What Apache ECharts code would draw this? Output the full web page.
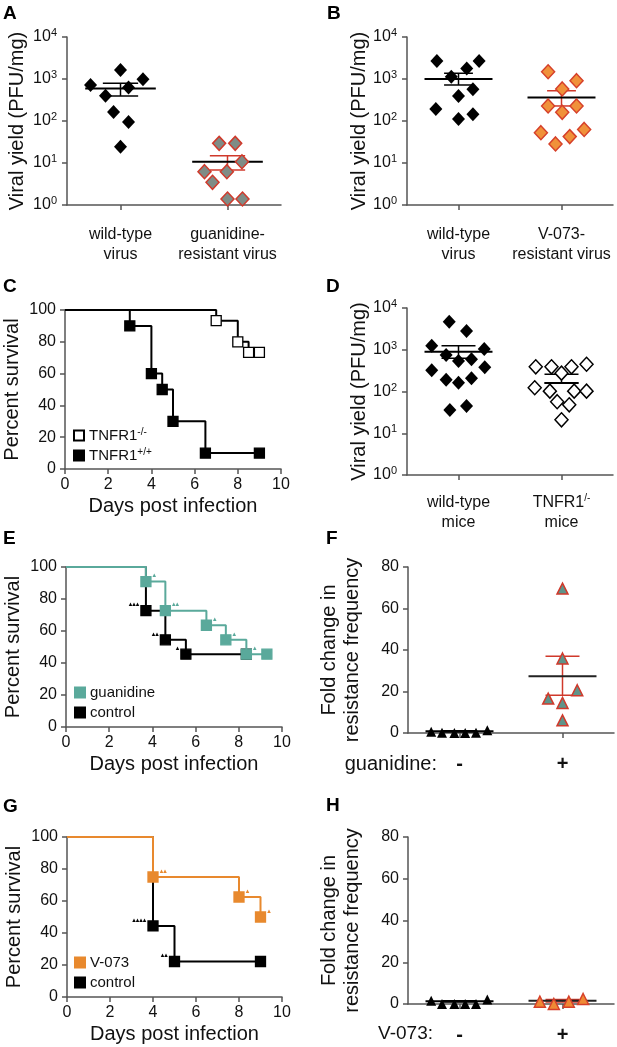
<!DOCTYPE html>
<html><head><meta charset="utf-8">
<script src="https://cdn.jsdelivr.net/npm/echarts@6/dist/echarts.min.js"></script>
<style>html,body{margin:0;padding:0;background:#fff}#c{width:617px;height:1047px}</style>
</head><body><div id="c"></div>
<script>
// ===== DATA =====
// Panel A
const catA = ['wild-type\nvirus', 'guanidine-\nresistant virus'];
const aWtY = [720, 1630, 990, 630, 400, 163, 95, 24.5];
const aWtJ = [-0.28, 0, 0.21, 0.075, -0.14, -0.065, 0.075, 0];
const aWtStat = [590, 395, 790];            // mean, lower SEM, upper SEM
const aGrY = [29.4, 29.4, 10.7, 6.2, 6.2, 3.47, 1.39, 1.39];
const aGrJ = [-0.078, 0.072, 0.135, -0.215, -0.006, -0.14, 0, 0.14];
const aGrStat = [10.7, 6.8, 14.9];
// Panel B
const catB = ['wild-type\nvirus', 'V-073-\nresistant virus'];
const bWtY = [2680, 2680, 1790, 1130, 570, 395, 193, 145, 112];
const bWtJ = [-0.21, 0.2, 0.08, -0.07, 0.14, 0, -0.22, 0.14, 0];
const bWtStat = [1000, 720, 1370];
const bVY = [1490, 910, 580, 228, 228, 161, 52.6, 63, 42.5, 28.4];
const bVJ = [-0.13, 0.146, 0.007, -0.13, 0.146, 0.007, -0.2, 0.22, 0.08, -0.058];
const bVStat = [365, 228, 525];
// Panel C (Kaplan-Meier)
const cKoX = [0, 7, 8, 8.5, 9];
const cKoY = [100, 93.3, 80, 73.3, 73.3];
const cWtX = [0, 3, 4, 4.5, 5, 6.5, 9];
const cWtY = [100, 90, 60, 50, 30, 10, 10];
// Panel D
const catD = ['wild-type\nmice', 'TNFR1/-\nmice'];
const dWtY = [4700, 2800, 1250, 1040, 750, 540, 590, 325, 380, 190, 208, 162, 36, 45];
const dWtJ = [-0.09, 0.078, -0.26, 0.25, -0.12, 0, 0.126, -0.26, 0.255, -0.12, 0.126, 0, -0.084, 0.078];
const dWtStat = [900, 625, 1250];
const dKoY = [390, 390, 390, 450, 275, 123, 102, 102, 102, 57, 48, 21];
const dKoJ = [-0.25, -0.097, 0.097, 0.243, 0, -0.26, -0.113, 0.123, 0.243, -0.042, 0.075, 0];
const dKoStat = [160, 160, 258];
// Panel E
const eGuX = [0, 3.7, 4.6, 6.5, 7.4, 8.35, 9.3];
const eGuY = [100, 90.9, 72.7, 63.6, 54.5, 45.5, 45.5];
const eGuTicks = ['', '▴', '▴▴', '▴', '▴', '▴', ''];
const eCtX = [0, 3.7, 4.6, 5.55, 8.35];
const eCtY = [100, 72.7, 54.5, 45.5, 45.5];
const eCtTicks = ['', '▴▴▴', '▴▴', '▴', ''];
// Panel F
const catF = ['-', '+'];
const fMinY = [0.6, 0.1, 0, 0, 0.1, 1.3];
const fMinJ = [-0.275, -0.17, -0.05, 0.055, 0.16, 0.27];
const fMinStat = [0.8, 0.5, 1.1];
const fPlusY = [69.6, 35.9, 20.6, 16.6, 14.5, 6.1];
const fPlusJ = [0, 0, 0.143, -0.139, 0, 0];
const fPlusStat = [27.3, 18.2, 37.0];
// Panel G
const gVX = [0, 4, 8, 9];
const gVY = [100, 75, 62.5, 50];
const gVTicks = ['', '▴▴', '▴', '▴'];
const gCtX = [0, 4, 5, 9];
const gCtY = [100, 44.4, 22.2, 22.2];
const gCtTicks = ['', '▴▴▴▴', '▴▴', ''];
// Panel H
const catH = ['-', '+'];
const hMinY = [1.6, 0, 0, 0, 0, 2.2];
const hMinJ = [-0.275, -0.17, -0.05, 0.055, 0.16, 0.27];
const hMinStat = [1.3, 1.0, 1.6];
const hPlusY = [1.1, 0, 1.1, 2.4];
const hPlusJ = [-0.22, -0.084, 0.061, 0.2];
const hPlusStat = [1.6, 1.0, 2.2];

// ===== STYLE =====
const FONT = '"Liberation Sans", Arial, Helvetica, sans-serif';
const AXC = '#555555';
const TXT = '#111111';
const RED = '#d0392b';
const TEAL = '#5aa99b';
const ORANGE = '#e8892e';

const grids = [], xAxes = [], yAxes = [], series = [], legends = [], graphics = [];

function axLine() { return {show: true, onZero: false, lineStyle: {color: AXC, width: 1.5}}; }
function axTick() { return {show: true, length: 5, lineStyle: {color: AXC, width: 1.5}}; }
function addGrid(l, t, w, h) {
  grids.push({left: l, top: t, width: w, height: h, containLabel: false, outerBoundsMode: 'none'});
  return grids.length - 1;
}
function errRender(meanColor, semColor, mwFrac, cwFrac) {
  return function (params, api) {
    const x = api.value(0);
    const m = api.coord([x, api.value(1)]);
    const lo = api.coord([x, api.value(2)]);
    const hi = api.coord([x, api.value(3)]);
    const band = api.coord([1, api.value(1)])[0] - api.coord([0, api.value(1)])[0];
    const mw = band * mwFrac, cw = band * cwFrac;
    const sem = {stroke: semColor, lineWidth: 1.5};
    return {type: 'group', children: [
      {type: 'line', shape: {x1: lo[0], y1: lo[1], x2: hi[0], y2: hi[1]}, style: sem},
      {type: 'line', shape: {x1: lo[0] - cw, y1: lo[1], x2: lo[0] + cw, y2: lo[1]}, style: sem},
      {type: 'line', shape: {x1: hi[0] - cw, y1: hi[1], x2: hi[0] + cw, y2: hi[1]}, style: sem},
      {type: 'line', shape: {x1: m[0] - mw, y1: m[1], x2: m[0] + mw, y2: m[1]}, style: {stroke: meanColor, lineWidth: 2}}
    ]};
  };
}
const logY = (name, gap) => ({
  type: 'log', logBase: 10, min: 1, max: 10000,
  axisLine: axLine(), axisTick: axTick(), splitLine: {show: false},
  axisLabel: {margin: 10, formatter: v => '{b|10}{s|' + Math.round(Math.log10(v)) + '}',
    rich: {b: {fontFamily: FONT, fontSize: 16, color: TXT, lineHeight: 19},
           s: {fontFamily: FONT, fontSize: 11, color: TXT, lineHeight: 11, verticalAlign: 'top'}}},
  name: name, nameLocation: 'middle', nameGap: gap,
  nameTextStyle: {fontFamily: FONT, fontSize: 20, color: TXT}
});
const linY = (max, name, gap, lh) => ({
  type: 'value', min: 0, max: max, interval: 20,
  axisLine: axLine(), axisTick: axTick(), splitLine: {show: false},
  axisLabel: {margin: 9, fontFamily: FONT, fontSize: 16, color: TXT},
  name: name, nameLocation: 'middle', nameGap: gap,
  nameTextStyle: {fontFamily: FONT, fontSize: 20, color: TXT, lineHeight: lh || 24}
});

function dotPanel(box, cats, yCfg, groups, labelCfg) {
  const g = addGrid(box[0], box[1], box[2], box[3]);
  xAxes.push(Object.assign({type: 'category', gridIndex: g, data: cats, boundaryGap: true,
    axisLine: axLine(), axisTick: Object.assign(axTick(), {alignWithLabel: true}),
    splitLine: {show: false}}, {axisLabel: Object.assign({interval: 0, color: TXT, fontFamily: FONT}, labelCfg)}));
  const va = xAxes.length;
  xAxes.push({type: 'value', gridIndex: g, min: 0, max: 2, show: false});
  const yi = yAxes.length;
  yAxes.push(Object.assign({gridIndex: g}, yCfg));
  groups.forEach((gr, ci) => {
    series.push({type: 'custom', xAxisIndex: va, yAxisIndex: yi, z: 2, silent: true, clip: false,
      data: [[ci + 0.5, gr.stat[0], gr.stat[1], gr.stat[2]]],
      renderItem: errRender(gr.meanColor, gr.semColor, gr.mw || 0.33, gr.cw || 0.165)});
    series.push({type: 'scatter', xAxisIndex: va, yAxisIndex: yi, z: 3, silent: true, clip: false,
      symbol: gr.symbol, symbolSize: gr.size, itemStyle: Object.assign({opacity: 1}, gr.style),
      data: gr.y.map((v, i) => [ci + 0.5 + gr.j[i], v])});
  });
}

function survPanel(box, curves, legendPos) {
  const g = addGrid(box[0], box[1], box[2], box[3]);
  const xi = xAxes.length, yi = yAxes.length;
  xAxes.push({type: 'value', gridIndex: g, min: 0, max: 10, interval: 2,
    axisLine: axLine(), axisTick: axTick(), splitLine: {show: false},
    axisLabel: {margin: 8, fontFamily: FONT, fontSize: 16, color: TXT},
    name: 'Days post infection', nameLocation: 'middle', nameGap: 27,
    nameTextStyle: {fontFamily: FONT, fontSize: 20, color: TXT}});
  yAxes.push(Object.assign({gridIndex: g}, linY(100, 'Percent survival', 41)));
  curves.forEach((cv, k) => {
    const z = 2 + k * 2;
    series.push({type: 'line', name: cv.name + ' curve', xAxisIndex: xi, yAxisIndex: yi, step: 'end',
      symbol: 'none', silent: true, clip: false, z: z,
      lineStyle: {color: cv.color, width: 2, opacity: 1},
      data: cv.x.map((x, i) => [x, cv.y[i]])});
    series.push({type: 'scatter', name: cv.name, xAxisIndex: xi, yAxisIndex: yi, silent: true, clip: false, z: z + 1,
      symbol: 'rect', symbolSize: 10,
      itemStyle: {color: cv.fill, borderColor: cv.border, borderWidth: 1.3, opacity: 1},
      data: cv.x.slice(1).map((x, i) => {
        const t = cv.ticks ? cv.ticks[i + 1] : '';
        return {value: [x, cv.y[i + 1]],
          label: {show: !!t, formatter: t, position: cv.tickSide, distance: 1, offset: [0, -6],
            fontFamily: 'DejaVu Sans', fontSize: 7, color: cv.color}};
      })});
  });
  legends.push({show: true, orient: 'vertical', left: legendPos[0], top: legendPos[1],
    padding: 0, itemGap: legendPos[2], itemWidth: 10, itemHeight: 10, selectedMode: false,
    data: curves.map(c => c.name),
    formatter: n => n.replace(/(-\/-|\+\/\+)$/, '{s|$1}'),
    textStyle: {fontFamily: FONT, fontSize: 15, color: TXT, lineHeight: 17,
      rich: {s: {fontFamily: FONT, fontSize: 10, color: TXT, lineHeight: 10, verticalAlign: 'top'}}}});
}

const catLab = {fontSize: 16, lineHeight: 20, margin: 20};
const blackDia = {symbol: 'diamond', size: [13, 14], style: {color: '#000'}, meanColor: '#000', semColor: '#000'};

// A
dotPanel([67, 37, 214, 168], catA, logY('Viral yield (PFU/mg)', 40), [
  Object.assign({}, blackDia, {y: aWtY, j: aWtJ, stat: aWtStat}),
  {y: aGrY, j: aGrJ, stat: aGrStat, symbol: 'diamond', size: [13, 14],
   style: {color: '#7f8c86', borderColor: RED, borderWidth: 1.5}, meanColor: '#000', semColor: RED}
], catLab);
// B
dotPanel([407, 37, 206, 168], catB, logY('Viral yield (PFU/mg)', 38), [
  Object.assign({}, blackDia, {y: bWtY, j: bWtJ, stat: bWtStat, cw: 0.14}),
  {y: bVY, j: bVJ, stat: bVStat, symbol: 'diamond', size: [13, 14], cw: 0.14,
   style: {color: '#f0913a', borderColor: '#d6402a', borderWidth: 1.5}, meanColor: '#000', semColor: RED}
], catLab);
// C
survPanel([65, 310, 216, 159], [
  {name: 'TNFR1-/-', x: cKoX, y: cKoY, color: '#000', fill: '#fff', border: '#000'},
  {name: 'TNFR1+/+', x: cWtX, y: cWtY, color: '#000', fill: '#000', border: '#000'}
], [73, 427, 3]);
// D
dotPanel([407, 308, 206, 167], catD, logY('Viral yield (PFU/mg)', 38), [
  Object.assign({}, blackDia, {y: dWtY, j: dWtJ, stat: dWtStat}),
  {y: dKoY, j: dKoJ, stat: dKoStat, symbol: 'diamond', size: [13, 14], mw: 0.165,
   style: {color: '#fff', borderColor: '#000', borderWidth: 1.5}, meanColor: '#000', semColor: '#000'}
], Object.assign({}, catLab, {margin: 18, formatter: v => v.replace('/-', '{s|/-}'),
  rich: {s: {fontFamily: FONT, fontSize: 10, color: TXT, lineHeight: 10, verticalAlign: 'top'}}}));
// E
survPanel([66, 567, 216, 160], [
  {name: 'control', x: eCtX, y: eCtY, ticks: eCtTicks, tickSide: 'left', color: '#000', fill: '#000', border: '#000'},
  {name: 'guanidine', x: eGuX, y: eGuY, ticks: eGuTicks, tickSide: 'right', color: TEAL, fill: TEAL, border: TEAL}
], [74, 684, 3]);
legends[legends.length - 1].data = ['guanidine', 'control'];
// F
const triCat = {fontSize: 20, fontWeight: 'bold', lineHeight: 20, margin: 21};
dotPanel([408, 567, 206, 166], catF, linY(80, 'Fold change in\nresistance frequency', 44, 23), [
  {y: fMinY, j: fMinJ, stat: fMinStat, symbol: 'triangle', size: [10, 10], style: {color: '#000'}, meanColor: '#000', semColor: '#000'},
  {y: fPlusY, j: fPlusJ, stat: fPlusStat, symbol: 'triangle', size: [11, 11],
   style: {color: '#5f948a', borderColor: RED, borderWidth: 1.5}, meanColor: '#222', semColor: RED}
], triCat);
// G
survPanel([67, 837, 215, 160], [
  {name: 'control', x: gCtX, y: gCtY, ticks: gCtTicks, tickSide: 'left', color: '#000', fill: '#000', border: '#000'},
  {name: 'V-073', x: gVX, y: gVY, ticks: gVTicks, tickSide: 'right', color: ORANGE, fill: ORANGE, border: ORANGE}
], [74, 954, 3]);
legends[legends.length - 1].data = ['V-073', 'control'];
// H
dotPanel([408, 837, 206, 167], catH, linY(80, 'Fold change in\nresistance frequency', 44, 23), [
  {y: hMinY, j: hMinJ, stat: hMinStat, symbol: 'triangle', size: [10, 10], style: {color: '#000'}, meanColor: '#000', semColor: '#000'},
  {y: hPlusY, j: hPlusJ, stat: hPlusStat, symbol: 'triangle', size: [11, 11],
   style: {color: '#ef8a35', borderColor: '#d6402a', borderWidth: 1.5}, meanColor: '#222', semColor: RED}
], triCat);

// Text: panel letters and row labels
const letters = [['A', 3, 4], ['B', 327, 4], ['C', 3, 277], ['D', 326, 277],
                 ['E', 3, 529], ['F', 326, 529], ['G', 3, 797], ['H', 326, 796]];
letters.forEach(l => graphics.push({type: 'text', x: l[1], y: l[2], silent: true,
  style: {text: l[0], fontFamily: FONT, fontSize: 19, fontWeight: 'bold', fill: '#000', align: 'left', verticalAlign: 'top'}}));
graphics.push({type: 'text', x: 437, y: 764, silent: true,
  style: {text: 'guanidine:', fontFamily: FONT, fontSize: 20, fill: TXT, align: 'right', verticalAlign: 'middle'}});
graphics.push({type: 'text', x: 433, y: 1034, silent: true,
  style: {text: 'V-073:', fontFamily: FONT, fontSize: 19, fill: TXT, align: 'right', verticalAlign: 'middle'}});

const chart = echarts.init(document.getElementById('c'), null, {renderer: 'canvas'});
chart.setOption({
  animation: false,
  backgroundColor: '#fff',
  textStyle: {fontFamily: FONT},
  grid: grids, xAxis: xAxes, yAxis: yAxes, series: series, legend: legends, graphic: graphics
});
</script></body></html>
